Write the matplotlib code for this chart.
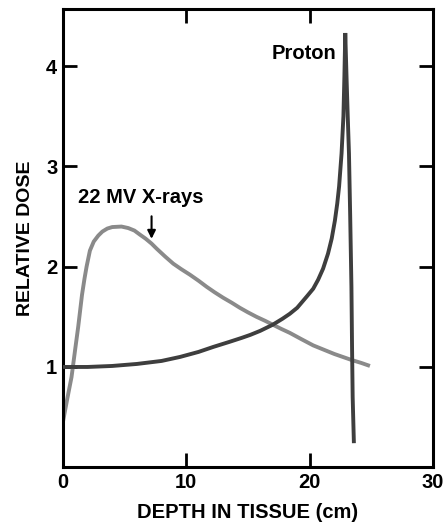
import matplotlib
matplotlib.use("Agg")
from matplotlib import pyplot as plt

# depth (cm) and relative dose
xray_depth = [0, 0.35, 0.7, 1.0, 1.24, 1.55, 1.75, 1.92, 2.19, 2.5, 2.87, 3.2, 3.6, 4.0, 4.75,
              5.3, 5.8, 6.24, 6.7, 7.19, 7.6, 8.3, 8.95, 9.6, 10.3, 11.0, 11.65, 12.3, 13.0,
              13.7, 14.35, 15.0, 15.7, 16.4, 17.05, 17.7, 18.4, 19.3, 20.3, 21.2, 22.0, 22.7,
              23.4, 24.2, 24.9]
xray_dose = [0.45, 0.68, 0.90, 1.18, 1.40, 1.72, 1.88, 2.00, 2.16, 2.25, 2.31, 2.35, 2.38, 2.395, 2.40,
             2.385, 2.36, 2.32, 2.28, 2.23, 2.18, 2.10, 2.03, 1.975, 1.92, 1.86, 1.80, 1.745, 1.69,
             1.64, 1.59, 1.545, 1.50, 1.46, 1.42, 1.38, 1.34, 1.28, 1.215, 1.17, 1.13, 1.10,
             1.07, 1.04, 1.01]

proton_depth = [0, 2, 4, 6, 8, 9.5, 11, 12.2, 13.5, 14.5, 15.2, 16.0, 17.0, 17.8, 18.4, 19.0,
                19.76, 20.3, 20.7, 21.1, 21.5, 21.8, 22.06, 22.25, 22.4, 22.6, 22.75, 22.83, 22.9,
                23.0, 23.1, 23.2, 23.3, 23.4, 23.45, 23.5, 23.6]
proton_dose = [1.0, 1.0, 1.01, 1.03, 1.06, 1.10, 1.15, 1.20, 1.25, 1.29, 1.32, 1.36, 1.42, 1.48, 1.53, 1.59,
               1.70, 1.78, 1.87, 1.98, 2.13, 2.28, 2.46, 2.63, 2.80, 3.13, 3.50, 3.90, 4.33,
               3.90, 3.50, 3.13, 2.50, 1.80, 1.20, 0.70, 0.24]

x_ticks = [0, 10, 20, 30]
y_ticks = [1, 2, 3, 4]

plt.rcParams['font.family'] = ['Liberation Sans', 'DejaVu Sans']
plt.rcParams['font.weight'] = 'bold'

fig = plt.figure(figsize=(4.43, 5.25), dpi=100)
ax = fig.add_axes([0.142, 0.110, 0.835, 0.873])

ax.plot(xray_depth, xray_dose, color='#8a8a8a', linewidth=2.8, solid_capstyle='butt', zorder=2)
ax.plot(proton_depth, proton_dose, color='#3e3e3e', linewidth=2.8, solid_joinstyle='miter',
        solid_capstyle='butt', zorder=3)

ax.set_xlim(0, 30)
ax.set_ylim(0, 4.57)
ax.set_xticks(x_ticks)
ax.set_yticks(y_ticks)
ax.tick_params(direction='in', length=10, width=2, labelsize=14.5, pad=4,
               top=True, right=True)
for s in ax.spines.values():
    s.set_linewidth(2.2)

ax.set_xlabel('DEPTH IN TISSUE (cm)', fontsize=14.5, fontweight='bold', labelpad=8)
ax.set_ylabel('RELATIVE DOSE', fontsize=14, fontweight='bold', labelpad=9)

ax.text(22.2, 4.13, 'Proton', fontsize=14.5, fontweight='bold', ha='right', va='center')
ax.text(1.2, 2.69, '22 MV X-rays', fontsize=14.5, fontweight='bold', ha='left', va='center')
ax.annotate('', xy=(7.19, 2.25), xytext=(7.19, 2.53),
            arrowprops=dict(arrowstyle='-|>', color='black', lw=1.5, mutation_scale=12))

fig.savefig('out.png', dpi=100)
